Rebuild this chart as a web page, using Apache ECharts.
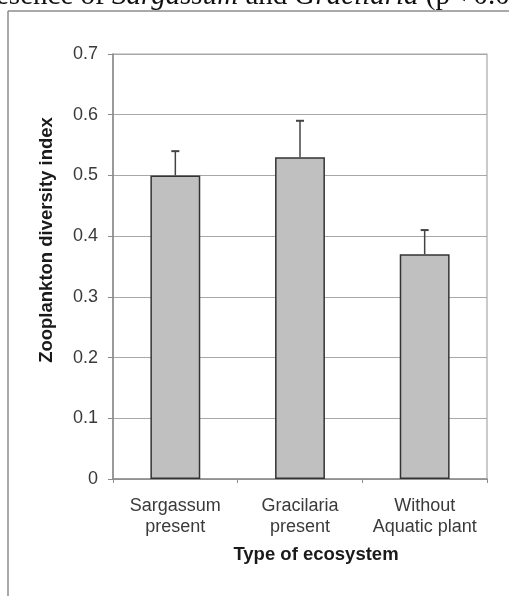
<!DOCTYPE html>
<html>
<head>
<meta charset="utf-8">
<script src="https://cdn.jsdelivr.net/npm/echarts@6/dist/echarts.min.js"></script>
<style>
html,body{margin:0;padding:0;background:#fff;}
#chart{width:509px;height:596px;}
</style>
</head>
<body>
<div id="chart"></div>
<script>
const categories = ['Sargassum\npresent', 'Gracilaria\npresent', 'Without\nAquatic plant'];
const means = [0.50, 0.53, 0.37];
const errors = [0.04, 0.06, 0.04];
const yTicks = { min: 0, max: 0.7, interval: 0.1 };

const chart = echarts.init(document.getElementById('chart'), null, { renderer: 'canvas' });

const errData = means.map((m, i) => [i, m, errors[i]]);

chart.setOption({
  animation: false,
  backgroundColor: '#fff',
  grid: { left: 113, right: 22, top: 54, bottom: 117, show: true, borderColor: '#a8a8a8', borderWidth: 1.2 },
  xAxis: {
    type: 'category',
    data: categories,
    axisLine: { lineStyle: { color: '#8a8a8a', width: 1.5 } },
    axisTick: { show: true, length: 4, lineStyle: { color: '#8a8a8a', width: 1 } },
    axisLabel: { interval: 0, hideOverlap: false, color: '#3a3a3a', fontFamily: 'Liberation Sans, Arial', fontSize: 18, lineHeight: 21, margin: 17 }
  },
  yAxis: {
    type: 'value',
    min: yTicks.min, max: yTicks.max, interval: yTicks.interval,
    axisLine: { show: true, lineStyle: { color: '#8a8a8a', width: 1.5 } },
    axisTick: { show: true, length: 5, lineStyle: { color: '#8a8a8a', width: 1 } },
    axisLabel: { color: '#3a3a3a', fontFamily: 'Liberation Sans, Arial', fontSize: 18, margin: 15,
      formatter: v => (v === 0 ? '0' : v.toFixed(1)) },
    splitLine: { lineStyle: { color: '#a8a8a8', width: 1.2 } }
  },
  series: [
    {
      type: 'bar',
      data: means,
      barWidth: '40%',
      itemStyle: { color: '#c0c0c0', borderColor: '#333', borderWidth: 1.5 }
    },
    {
      type: 'custom',
      data: errData,
      z: 5,
      renderItem: function (params, api) {
        const i = api.value(0), m = api.value(1), e = api.value(2);
        const base = api.coord([i, m]);
        const top = api.coord([i, m + e]);
        const style = { stroke: '#444', lineWidth: 1.5 };
        return {
          type: 'group',
          children: [
            { type: 'line', shape: { x1: base[0], y1: base[1], x2: top[0], y2: top[1] }, style },
            { type: 'line', shape: { x1: top[0] - 4, y1: top[1], x2: top[0] + 4, y2: top[1] }, style: { stroke: '#444', lineWidth: 2 } }
          ]
        };
      }
    }
  ],
  graphic: [
    { type: 'line', shape: { x1: 8, y1: 11, x2: 509, y2: 11 }, style: { stroke: '#8c8c8c', lineWidth: 1.5 } },
    { type: 'line', shape: { x1: 8, y1: 11, x2: 8, y2: 596 }, style: { stroke: '#8c8c8c', lineWidth: 1.5 } },
    {
      type: 'text', left: -4, top: -18,
      style: {
        text: '{n|esence of }{i|Sargassum}{n| and }{i|Gracilaria}{n| (p< 0.05)}',
        rich: {
          n: { fontFamily: 'Liberation Serif', fontSize: 29, fill: '#111' },
          i: { fontFamily: 'Liberation Serif', fontSize: 29, fontStyle: 'italic', fill: '#111' }
        }
      }
    },
    {
      type: 'text', x: 47, y: 240, rotation: Math.PI / 2,
      style: { text: 'Zooplankton diversity index', fontFamily: 'Liberation Sans, Arial', fontWeight: 'bold', fontSize: 18.5, fill: '#1a1a1a', align: 'center', verticalAlign: 'middle' }
    },
    {
      type: 'text', x: 316, y: 555,
      style: { text: 'Type of ecosystem', fontFamily: 'Liberation Sans, Arial', fontWeight: 'bold', fontSize: 18.5, fill: '#1a1a1a', align: 'center', verticalAlign: 'middle' }
    }
  ]
});
</script>
</body>
</html>
